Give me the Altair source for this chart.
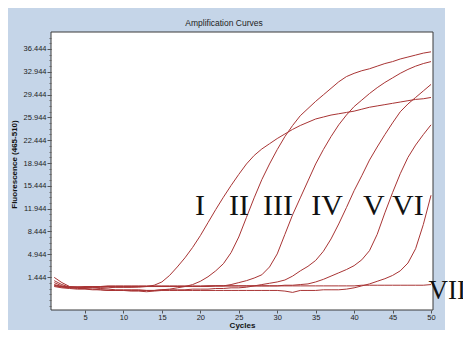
import altair as alt
import pandas as pd

# ---------------- data ----------------
cycles = list(range(1, 51))

curve_I = [1.4, 0.6, 0.0, -0.1, -0.1, -0.1, -0.2, -0.2, -0.1, -0.1,
           -0.1, 0.0, 0.0, 0.2, 0.7, 1.7, 3.0, 4.4, 6.0, 7.8,
           9.8, 11.8, 13.7, 15.5, 17.2, 18.8, 20.1, 21.1, 21.9, 22.7,
           23.4, 24.1, 24.7, 25.2, 25.7, 26.0, 26.3, 26.5, 26.7, 26.9,
           27.2, 27.5, 27.7, 27.9, 28.1, 28.3, 28.5, 28.7, 28.8, 29.0]

curve_II = [0.9, 0.3, -0.1, -0.1, -0.2, -0.2, -0.3, -0.4, -0.5, -0.5,
            -0.5, -0.5, -0.6, -0.6, -0.5, -0.4, -0.2, 0.0, 0.3, 0.8,
            1.5, 2.4, 3.5, 5.2, 7.6, 10.6, 13.6, 16.4, 18.8, 21.0,
            23.0, 24.7, 26.2, 27.3, 28.4, 29.4, 30.4, 31.4, 32.2, 32.7,
            33.1, 33.4, 33.8, 34.2, 34.5, 34.9, 35.2, 35.5, 35.8, 36.0]

curve_III = [0.6, 0.1, -0.1, -0.1, -0.1, 0.0, 0.0, 0.0, -0.1, -0.1,
             -0.1, -0.1, 0.0, 0.0, 0.0, 0.0, 0.0, 0.0, 0.0, 0.0,
             0.0, 0.1, 0.1, 0.3, 0.6, 0.9, 1.3, 1.8, 3.0, 5.0,
             8.0, 11.0, 13.6, 16.2, 18.8, 21.0, 23.0, 24.8, 26.3, 27.6,
             28.6, 29.6, 30.5, 31.3, 32.0, 32.7, 33.3, 33.8, 34.2, 34.5]

curve_IV = [0.2, -0.1, -0.2, -0.3, -0.3, -0.4, -0.5, -0.6, -0.6, -0.6,
            -0.6, -0.6, -0.6, -0.6, -0.5, -0.5, -0.5, -0.5, -0.4, -0.4,
            -0.4, -0.3, -0.3, -0.2, -0.2, -0.1, 0.1, 0.3, 0.5, 0.7,
            1.0, 1.6, 2.4, 3.1, 4.0, 5.4, 7.3, 9.6, 12.1, 14.7,
            17.0, 19.4, 21.4, 23.3, 25.1, 26.8, 28.0, 29.0, 30.0, 31.0]

curve_V = [0.3, 0.0, -0.1, -0.1, 0.0, 0.0, 0.0, 0.1, 0.1, 0.1,
           0.1, 0.1, 0.1, 0.1, 0.1, 0.1, 0.1, 0.1, 0.1, 0.1,
           0.1, 0.1, 0.1, 0.1, 0.1, 0.1, 0.1, 0.1, 0.1, 0.1,
           0.2, 0.2, 0.3, 0.4, 0.7, 1.1, 1.6, 2.1, 2.6, 3.2,
           4.1, 5.5, 8.0, 11.3, 14.4, 17.3, 19.8, 21.7, 23.3, 24.8]

curve_VI = [0.0, -0.2, -0.3, -0.4, -0.4, -0.5, -0.5, -0.6, -0.6, -0.6,
            -0.7, -0.7, -0.8, -0.7, -0.6, -0.6, -0.6, -0.6, -0.6, -0.6,
            -0.6, -0.6, -0.6, -0.6, -0.6, -0.6, -0.6, -0.6, -0.6, -0.6,
            -0.7, -0.9, -0.6, -0.6, -0.6, -0.5, -0.5, -0.5, -0.4, -0.2,
            0.1, 0.4, 0.8, 1.2, 1.7, 2.4, 3.6, 5.8, 9.5, 14.0]

curve_VII = [0.1, 0.0, -0.1, -0.1, -0.1, -0.1, -0.1, 0.0, 0.0, 0.0,
             0.0, 0.0, 0.0, 0.0, 0.0, 0.0, 0.0, 0.0, 0.0, 0.0,
             0.1, 0.1, 0.1, 0.1, 0.1, 0.1, 0.1, 0.1, 0.1, 0.1,
             0.1, 0.1, 0.1, 0.1, 0.1, 0.1, 0.1, 0.1, 0.1, 0.1,
             0.2, 0.2, 0.2, 0.2, 0.2, 0.2, 0.2, 0.2, 0.2, 0.3]

series_names = ["I", "II", "III", "IV", "V", "VI", "VII"]
series_values = [curve_I, curve_II, curve_III, curve_IV, curve_V, curve_VI, curve_VII]

label_text = ["I", "II", "III", "IV", "V", "VI", "VII"]
label_cycle = [19.95, 25.02, 30.10, 36.47, 42.58, 47.0, 52.1]
label_value = [10.92, 10.92, 10.92, 10.92, 10.92, 10.92, -1.92]
label_size = [30, 30, 30, 30, 30, 30, 27]

y_major = [round(1.444 + 3.5 * k, 3) for k in range(11)]
y_minor = [round(1.444 + 0.875 * j, 3) for j in range(-5, 43)]
x_ticks = [5, 10, 15, 20, 25, 30, 35, 40, 45, 50]

# ---------------- build tables ----------------
rows = []
for name, vals in zip(series_names, series_values):
    for c, v in zip(cycles, vals):
        rows.append({"series": name, "cycle": c, "value": v})
df = pd.DataFrame(rows)
labels_df = pd.DataFrame({"text": label_text, "cycle": label_cycle,
                          "value": label_value, "size": label_size})
deco = pd.DataFrame({"k": [0]})

# ---------------- layout ----------------
W, H = 382, 278
PAD_L, PAD_T = 43, 24
TOTAL_W, TOTAL_H = 455, 322
PANEL = "#c5d5e8"
RED = "#a83434"
FONT = "Liberation Sans"

x_scale = alt.Scale(domain=[0.58, 50.26], nice=False, zero=False)
y_scale = alt.Scale(domain=[-3.60, 39.04], nice=False, zero=False)

x_axis = alt.Axis(values=x_ticks, title="Cycles", tickSize=3, labelPadding=0,
                  labelFontSize=7.5, labelFont=FONT, labelColor="#222",
                  tickColor="#555", domain=False, grid=False, zindex=2,
                  titleFont=FONT, titleFontSize=8, titleFontWeight="bold",
                  titleColor="#111", titleY=17.5, titleBaseline="alphabetic")

y_axis_major = alt.Axis(values=y_major, format=".3f", title="Fluorescence (465-510)",
                        orient="left", tickSize=4, labelPadding=1, zindex=2,
                        labelFontSize=7.5, labelFont=FONT, labelColor="#222",
                        tickColor="#555", domain=False, grid=False,
                        titleFont=FONT, titleFontSize=8, titleFontWeight="bold",
                        titleColor="#111", titleX=-33, titleY=132)

y_axis_minor = alt.Axis(values=y_minor, labels=False, title=None, orient="left",
                        tickSize=2, tickColor="#666", domain=False, grid=False,
                        zindex=2)

panel = alt.Chart(deco).mark_rect(color=PANEL).encode(
    x=alt.value(-PAD_L), x2=alt.value(394),
    y=alt.value(-PAD_T), y2=alt.value(TOTAL_H - PAD_T))

plot_bg = alt.Chart(deco).mark_rect(fill="white", stroke="#3a3a3a", strokeWidth=1).encode(
    x=alt.value(0), x2=alt.value(W), y=alt.value(0), y2=alt.value(H))

lines = alt.Chart(df).mark_line(color=RED, strokeWidth=1, clip=True).encode(
    x=alt.X("cycle:Q", scale=x_scale, axis=x_axis),
    y=alt.Y("value:Q", scale=y_scale, axis=y_axis_major),
    detail="series:N")

minor = alt.Chart(df).mark_line(opacity=0).encode(
    x=alt.X("cycle:Q", scale=x_scale, axis=x_axis),
    y=alt.Y("value:Q", scale=y_scale, axis=y_axis_minor),
    detail="series:N")

texts = alt.Chart(labels_df).mark_text(
    font="Liberation Serif", color="#111",
    align="center", baseline="alphabetic").encode(
    x=alt.X("cycle:Q", scale=x_scale, axis=x_axis),
    y=alt.Y("value:Q", scale=y_scale, axis=None),
    size=alt.Size("size:Q", scale=None, legend=None),
    text="text:N")

chart = alt.layer(panel, plot_bg, minor, lines, texts).resolve_axis(
    y="independent"
).properties(
    width=W, height=H,
    autosize=alt.AutoSizeParams(type="none"),
    padding={"left": PAD_L, "top": PAD_T, "right": TOTAL_W - PAD_L - W,
             "bottom": TOTAL_H - PAD_T - H},
    title=alt.Title("Amplification Curves", fontSize=8.5, font=FONT,
                    fontWeight="normal", color="#222", anchor="middle",
                    frame="group", dx=-18, dy=19, offset=0),
).configure(background="white").configure_view(stroke=None)

chart.save("out.html", embed_options={"renderer": "svg", "actions": False})
